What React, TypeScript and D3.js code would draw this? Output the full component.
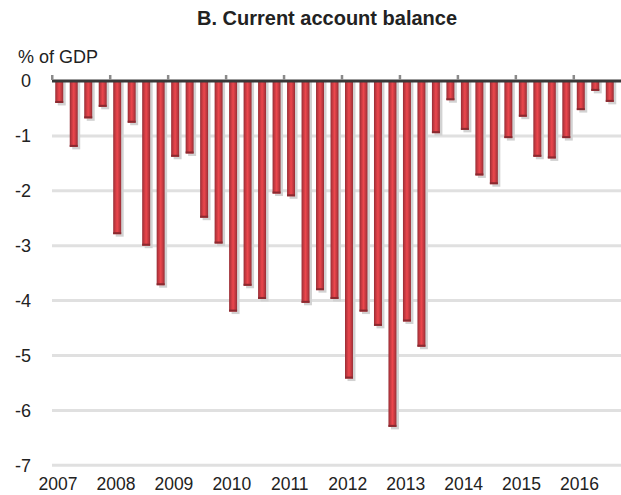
import React from "react";
import * as d3 from "d3";

const years: string[] = ["2007", "2008", "2009", "2010", "2011", "2012", "2013", "2014", "2015", "2016"];
const quarters: string[] = ["Q1", "Q2", "Q3", "Q4"];
// Current account balance, % of GDP, quarterly 2007Q1 - 2016Q3
const values: number[] = [
  -0.4, -1.2, -0.68, -0.47,
  -2.79, -0.76, -3.0, -3.72,
  -1.38, -1.32, -2.49, -2.96,
  -4.2, -3.73, -3.97, -2.05,
  -2.1, -4.04, -3.81, -3.97,
  -5.42, -4.2, -4.46, -6.3,
  -4.38, -4.84, -0.95, -0.35,
  -0.89, -1.72, -1.88, -1.04,
  -0.65, -1.38, -1.41, -1.04,
  -0.53, -0.18, -0.38,
];
const yTicks: number[] = [0, -1, -2, -3, -4, -5, -6, -7];
const title = "B. Current account balance";
const unitLabel = "% of GDP";

const W = 621;
const H = 495;
const left = 52;
const right = 617;
const y0 = 81;
const yBottom = 465.3;

export default function App() {
  const labels = values.map((_, i) => `${years[Math.floor(i / 4)]}${quarters[i % 4]}`);
  const x = d3.scaleBand<string>().domain(labels).range([left, right]).paddingInner(0.45).paddingOuter(0.225);
  const y = d3.scaleLinear().domain([0, -7]).range([y0, yBottom]);
  const step = x.step();
  const bw = x.bandwidth();
  const yearX = (k: number) => left + k * 4 * step;

  return (
    <svg width={W} height={H} style={{ position: "absolute", left: 0, top: 0 }} fontFamily="Liberation Sans, Arial, sans-serif">
      <defs>
        <linearGradient id="barGrad" x1="0" x2="1" y1="0" y2="0">
          <stop offset="0%" stopColor="#962d35" />
          <stop offset="22%" stopColor="#c23940" />
          <stop offset="50%" stopColor="#ec474d" />
          <stop offset="78%" stopColor="#c23940" />
          <stop offset="100%" stopColor="#962d35" />
        </linearGradient>
      </defs>
      <rect x={0} y={0} width={W} height={H} fill="#fff" />
      <text x={327} y={25} textAnchor="middle" fontSize={20} fontWeight="bold" fill="#222">{title}</text>
      <text x={18} y={63} fontSize={18} fill="#222">{unitLabel}</text>
      {yTicks.map((t) => (
        <g key={t}>
          {t !== 0 && (
            <line x1={left} x2={W} y1={y(t)} y2={y(t)} stroke="#e0e0e0" strokeWidth={3} />
          )}
          <text x={31} y={y(t)} dy="0.35em" textAnchor="end" fontSize={18} fill="#222">{t}</text>
        </g>
      ))}
      {values.map((v, i) => {
        const bx = x(labels[i]) as number;
        const top = y(0);
        const h = y(v) - y(0);
        return (
          <g key={i}>
            <rect x={bx + 2.5} y={top} width={bw} height={h + 2.5} fill="#d2d2d2" />
            <rect x={bx} y={top} width={bw} height={h} fill="url(#barGrad)" />
            <rect x={bx} y={top + h - 2} width={bw} height={2} fill="#8a2a30" />
          </g>
        );
      })}
      <line x1={left} x2={W} y1={y0} y2={y0} stroke="#383838" strokeWidth={3} />
      {years.map((yr, k) => (
        <g key={yr}>
          <rect x={yearX(k) - 1} y={y0 - 6} width={2.5} height={5} fill="#8a8a8a" />
          <text x={yearX(k) + 6} y={490} textAnchor="middle" fontSize={17.5} fill="#222">{yr}</text>
        </g>
      ))}
    </svg>
  );
}
